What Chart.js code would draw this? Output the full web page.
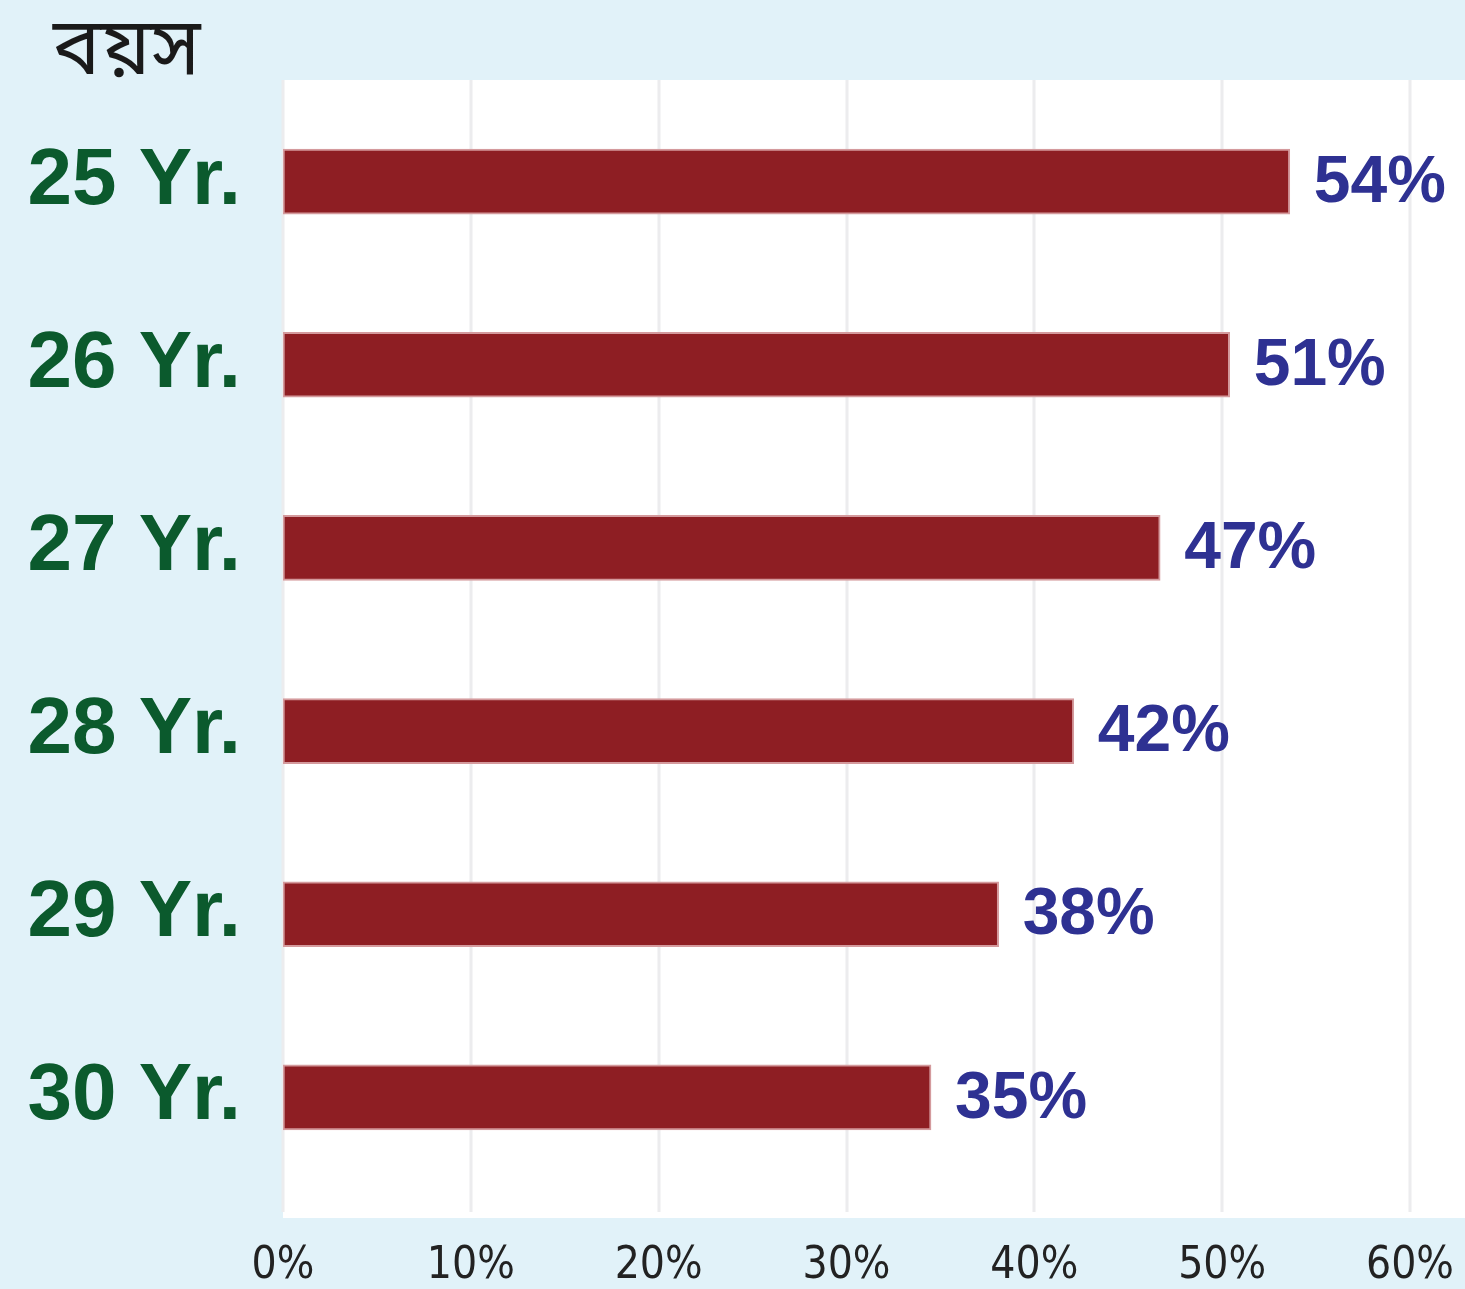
<!DOCTYPE html>
<html>
<head>
<meta charset="utf-8">
<script src="https://cdn.jsdelivr.net/npm/chart.js@4.4.1/dist/chart.umd.min.js"></script>
<style>
  body { margin: 0; background: #e1f2f9; }
  canvas { display: block; }
</style>
</head>
<body>
<canvas id="myChart" width="1465" height="1289"></canvas>
<script>
// data
const ageLabels = ['25 Yr.', '26 Yr.', '27 Yr.', '28 Yr.', '29 Yr.', '30 Yr.'];
const barValues = [53.6, 50.4, 46.7, 42.1, 38.1, 34.5];
const valueLabels = ['54%', '51%', '47%', '42%', '38%', '35%'];
const xTicks = [0, 10, 20, 30, 40, 50, 60];
const titleText = 'বয়স';

// background, white panel, grid lines, title and value labels
const panelPlugin = {
  id: 'panel',
  beforeDraw(chart) {
    const ctx = chart.ctx;
    const x = chart.scales.x;
    ctx.save();
    ctx.fillStyle = '#e1f2f9';
    ctx.fillRect(0, 0, chart.width, chart.height);
    ctx.fillStyle = '#ffffff';
    ctx.fillRect(283, 80, chart.width - 283, 1218 - 80);
    ctx.strokeStyle = '#ececee';
    ctx.lineWidth = 3;
    xTicks.forEach(v => {
      const px = Math.round(x.getPixelForValue(v));
      ctx.beginPath();
      ctx.moveTo(px, 80);
      ctx.lineTo(px, 1212);
      ctx.stroke();
    });
    // title
    ctx.fillStyle = '#1a1a1a';
    ctx.font = '80px "Noto Sans Bengali", "Noto Serif Bengali", "Noto Sans", sans-serif';
    ctx.textAlign = 'left';
    ctx.textBaseline = 'middle';
    ctx.fillText(titleText, 53, 59);
    ctx.restore();
  },
  afterDatasetsDraw(chart) {
    const ctx = chart.ctx;
    const meta = chart.getDatasetMeta(0);
    ctx.save();
    ctx.fillStyle = '#2e3192';
    ctx.font = 'bold 66px "Liberation Sans", Arial, sans-serif';
    ctx.textAlign = 'left';
    ctx.textBaseline = 'middle';
    meta.data.forEach((bar, i) => {
      ctx.fillText(valueLabels[i], bar.x + 24, bar.y + 2);
    });
    ctx.restore();
  }
};

const data = {
  labels: ageLabels,
  datasets: [{
    data: barValues,
    backgroundColor: '#8e1e23',
    borderColor: '#d49a9d',
    borderWidth: 2,
    borderSkipped: false,
    barThickness: 65
  }]
};

const config = {
  type: 'bar',
  data,
  options: {
    indexAxis: 'y',
    responsive: false,
    animation: false,
    layout: { padding: { top: 89, right: 55, left: 0, bottom: 0 } },
    plugins: {
      legend: { display: false },
      tooltip: { enabled: false }
    },
    scales: {
      x: {
        min: 0,
        max: 60,
        border: { display: false },
        grid: { display: false, drawTicks: false },
        afterBuildTicks: (scale) => { scale.ticks = xTicks.map(v => ({ value: v })); },
        afterFit: (scale) => {
          scale.height = 100;
          scale.paddingLeft = 0;
          scale.paddingRight = 0;
        },
        ticks: {
          padding: 51,
          color: '#222222',
          font: { family: '"Liberation Sans Narrow", "DejaVu Sans Condensed", sans-serif', size: 44 },
          callback: (v) => v + '%'
        }
      },
      y: {
        border: { display: false },
        grid: { display: false, drawTicks: false },
        afterFit: (scale) => { scale.width = 283; },
        ticks: {
          padding: 42,
          color: '#0b5a2d',
          font: { family: '"Liberation Sans", Arial, sans-serif', size: 80, weight: 'bold' }
        }
      }
    }
  },
  plugins: [panelPlugin]
};

const myChart = new Chart(document.getElementById('myChart'), config);
</script>
</body>
</html>
